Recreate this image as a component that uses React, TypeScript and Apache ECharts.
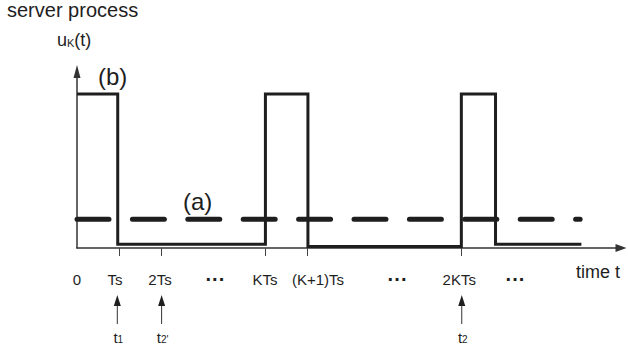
import React, { useEffect, useRef } from "react";
import * as echarts from "echarts";

// Pulse train (b): x in units of the time axis, y normalised (1 = high level)
const pulseX = [0, 0.977, 0.977, 4.52, 4.52, 5.54, 5.54, 9.22, 9.22, 10.04, 10.04, 12.1];
const pulseY = [1, 1, 0.024, 0.024, 1, 1, 0.01, 0.01, 1, 1, 0.024, 0.024];
// Mean level (a), dashed
const meanX = [0, 12.07];
const meanY = [0.186, 0.186];
// Axis ticks and labels
const tickValues = [1.01, 2.02, 4.51, 5.53, 9.22];
const labelValues = [0, 0.91, 1.99, 3.32, 4.51, 5.78, 7.69, 9.17, 10.52];
const labelTexts = ["0", "Ts", "2Ts", "···", "KTs", "(K+1)Ts", "···", "2KTs", "···"];
// Marker arrows below the axis
const arrowX = [0.967, 2.03, 9.23];
const arrowMain = ["t", "t", "t"];
const arrowSub = ["1", "2'", "2"];

const FONT = "'Liberation Sans', Arial, Helvetica, sans-serif";
const INK = "#1e1e1e";

export default function App() {
  const ref = useRef<HTMLDivElement>(null);
  useEffect(() => {
    if (!ref.current) return;
    const chart = echarts.init(ref.current, undefined, { renderer: "svg" });
    const option: any = {
      animation: false,
      backgroundColor: "#ffffff",
      textStyle: { fontFamily: FONT },
      grid: { left: 77, top: 71.5, width: 544, height: 176.5, containLabel: false },
      xAxis: {
        type: "value",
        min: 0,
        max: 13.05,
        splitLine: { show: false },
        name: "time t",
        nameLocation: "end",
        nameGap: -23,
        nameTextStyle: {
          fontSize: 18,
          color: INK,
          fontFamily: FONT,
          align: "center",
          verticalAlign: "top",
          padding: [15, 0, 0, 0],
        },
        axisLine: {
          show: true,
          onZero: false,
          symbol: ["none", "triangle"],
          symbolSize: [8, 11],
          lineStyle: { color: "#333", width: 1.5 },
        },
        axisTick: {
          show: true,
          customValues: tickValues,
          length: 8,
          lineStyle: { color: "#444", width: 1 },
        },
        axisLabel: {
          show: true,
          customValues: labelValues,
          margin: 24,
          fontSize: 15,
          color: INK,
          fontFamily: FONT,
          formatter: (v: number) => {
            let best = 0;
            for (let i = 1; i < labelValues.length; i++) {
              if (Math.abs(labelValues[i] - v) < Math.abs(labelValues[best] - v)) best = i;
            }
            const t = labelTexts[best];
            return t === "···" ? "{d|···}" : t;
          },
          rich: {
            d: { fontSize: 20, lineHeight: 14, fontWeight: "bold", color: INK, fontFamily: FONT },
          },
        },
      },
      yAxis: {
        type: "value",
        min: 0,
        max: 1.146,
        splitLine: { show: false },
        axisTick: { show: false },
        axisLabel: { show: false },
        axisLine: {
          show: true,
          symbol: ["none", "triangle"],
          symbolSize: [7, 13],
          lineStyle: { color: "#333", width: 1.5 },
        },
      },
      graphic: [
        {
          type: "text",
          left: 7,
          top: 0,
          style: { text: "server process", fontSize: 20, fill: INK, fontFamily: FONT },
        },
        {
          type: "text",
          x: 57,
          y: 40,
          style: {
            text: "{n|u}{s|K}{n|(t)}",
            verticalAlign: "middle",
            fontFamily: FONT,
            rich: {
              n: { fontSize: 18, fill: INK, fontFamily: FONT, verticalAlign: "bottom" },
              s: { fontSize: 11, fill: INK, fontFamily: FONT, verticalAlign: "bottom", padding: [0, 0, 1, 0] },
            },
          },
        },
        {
          type: "text",
          x: 98,
          y: 76,
          style: { text: "(b)", fontSize: 24, fill: INK, fontFamily: FONT, verticalAlign: "middle" },
        },
        {
          type: "text",
          x: 183,
          y: 201.5,
          style: { text: "(a)", fontSize: 24, fill: INK, fontFamily: FONT, verticalAlign: "middle" },
        },
      ],
      series: [
        {
          type: "line",
          data: pulseX.map((x, i) => [x, pulseY[i]]),
          symbol: "none",
          showSymbol: false,
          clip: false,
          z: 3,
          lineStyle: { color: INK, width: 3, join: "miter", cap: "butt" },
        },
        {
          type: "line",
          data: meanX.map((x, i) => [x, meanY[i]]),
          symbol: "none",
          showSymbol: false,
          clip: false,
          z: 4,
          lineStyle: { color: INK, width: 5, type: [32, 23.4], cap: "round" },
        },
        {
          type: "custom",
          clip: false,
          z: 5,
          data: arrowX.map((x, i) => [x, i]),
          renderItem: (params: any, api: any) => {
            const x = api.value(0);
            const i = api.value(1);
            const p = api.coord([x, 0]);
            const tipY = p[1] + 47;
            const headY = tipY + 11;
            const baseY = p[1] + 76;
            return {
              type: "group",
              children: [
                {
                  type: "line",
                  shape: { x1: p[0], y1: headY - 1, x2: p[0], y2: baseY },
                  style: { stroke: "#333", lineWidth: 1 },
                },
                {
                  type: "polygon",
                  shape: { points: [[p[0], tipY], [p[0] - 3.5, headY], [p[0] + 3.5, headY]] },
                  style: { fill: INK },
                },
                {
                  type: "text",
                  x: p[0] + 1,
                  y: baseY + 13,
                  style: {
                    text: "{n|" + arrowMain[i] + "}{s|" + arrowSub[i] + "}",
                    align: "center",
                    verticalAlign: "middle",
                    rich: {
                      n: { fontSize: 15, fill: INK, fontFamily: FONT, verticalAlign: "bottom" },
                      s: { fontSize: 10, fill: INK, fontFamily: FONT, verticalAlign: "bottom" },
                    },
                  },
                },
              ],
            };
          },
        },
      ],
    };
    chart.setOption(option);
    return () => chart.dispose();
  }, []);
  return (
    <div
      ref={ref}
      style={{ position: "fixed", left: 0, top: 0, width: 628, height: 350, background: "#fff" }}
    />
  );
}
